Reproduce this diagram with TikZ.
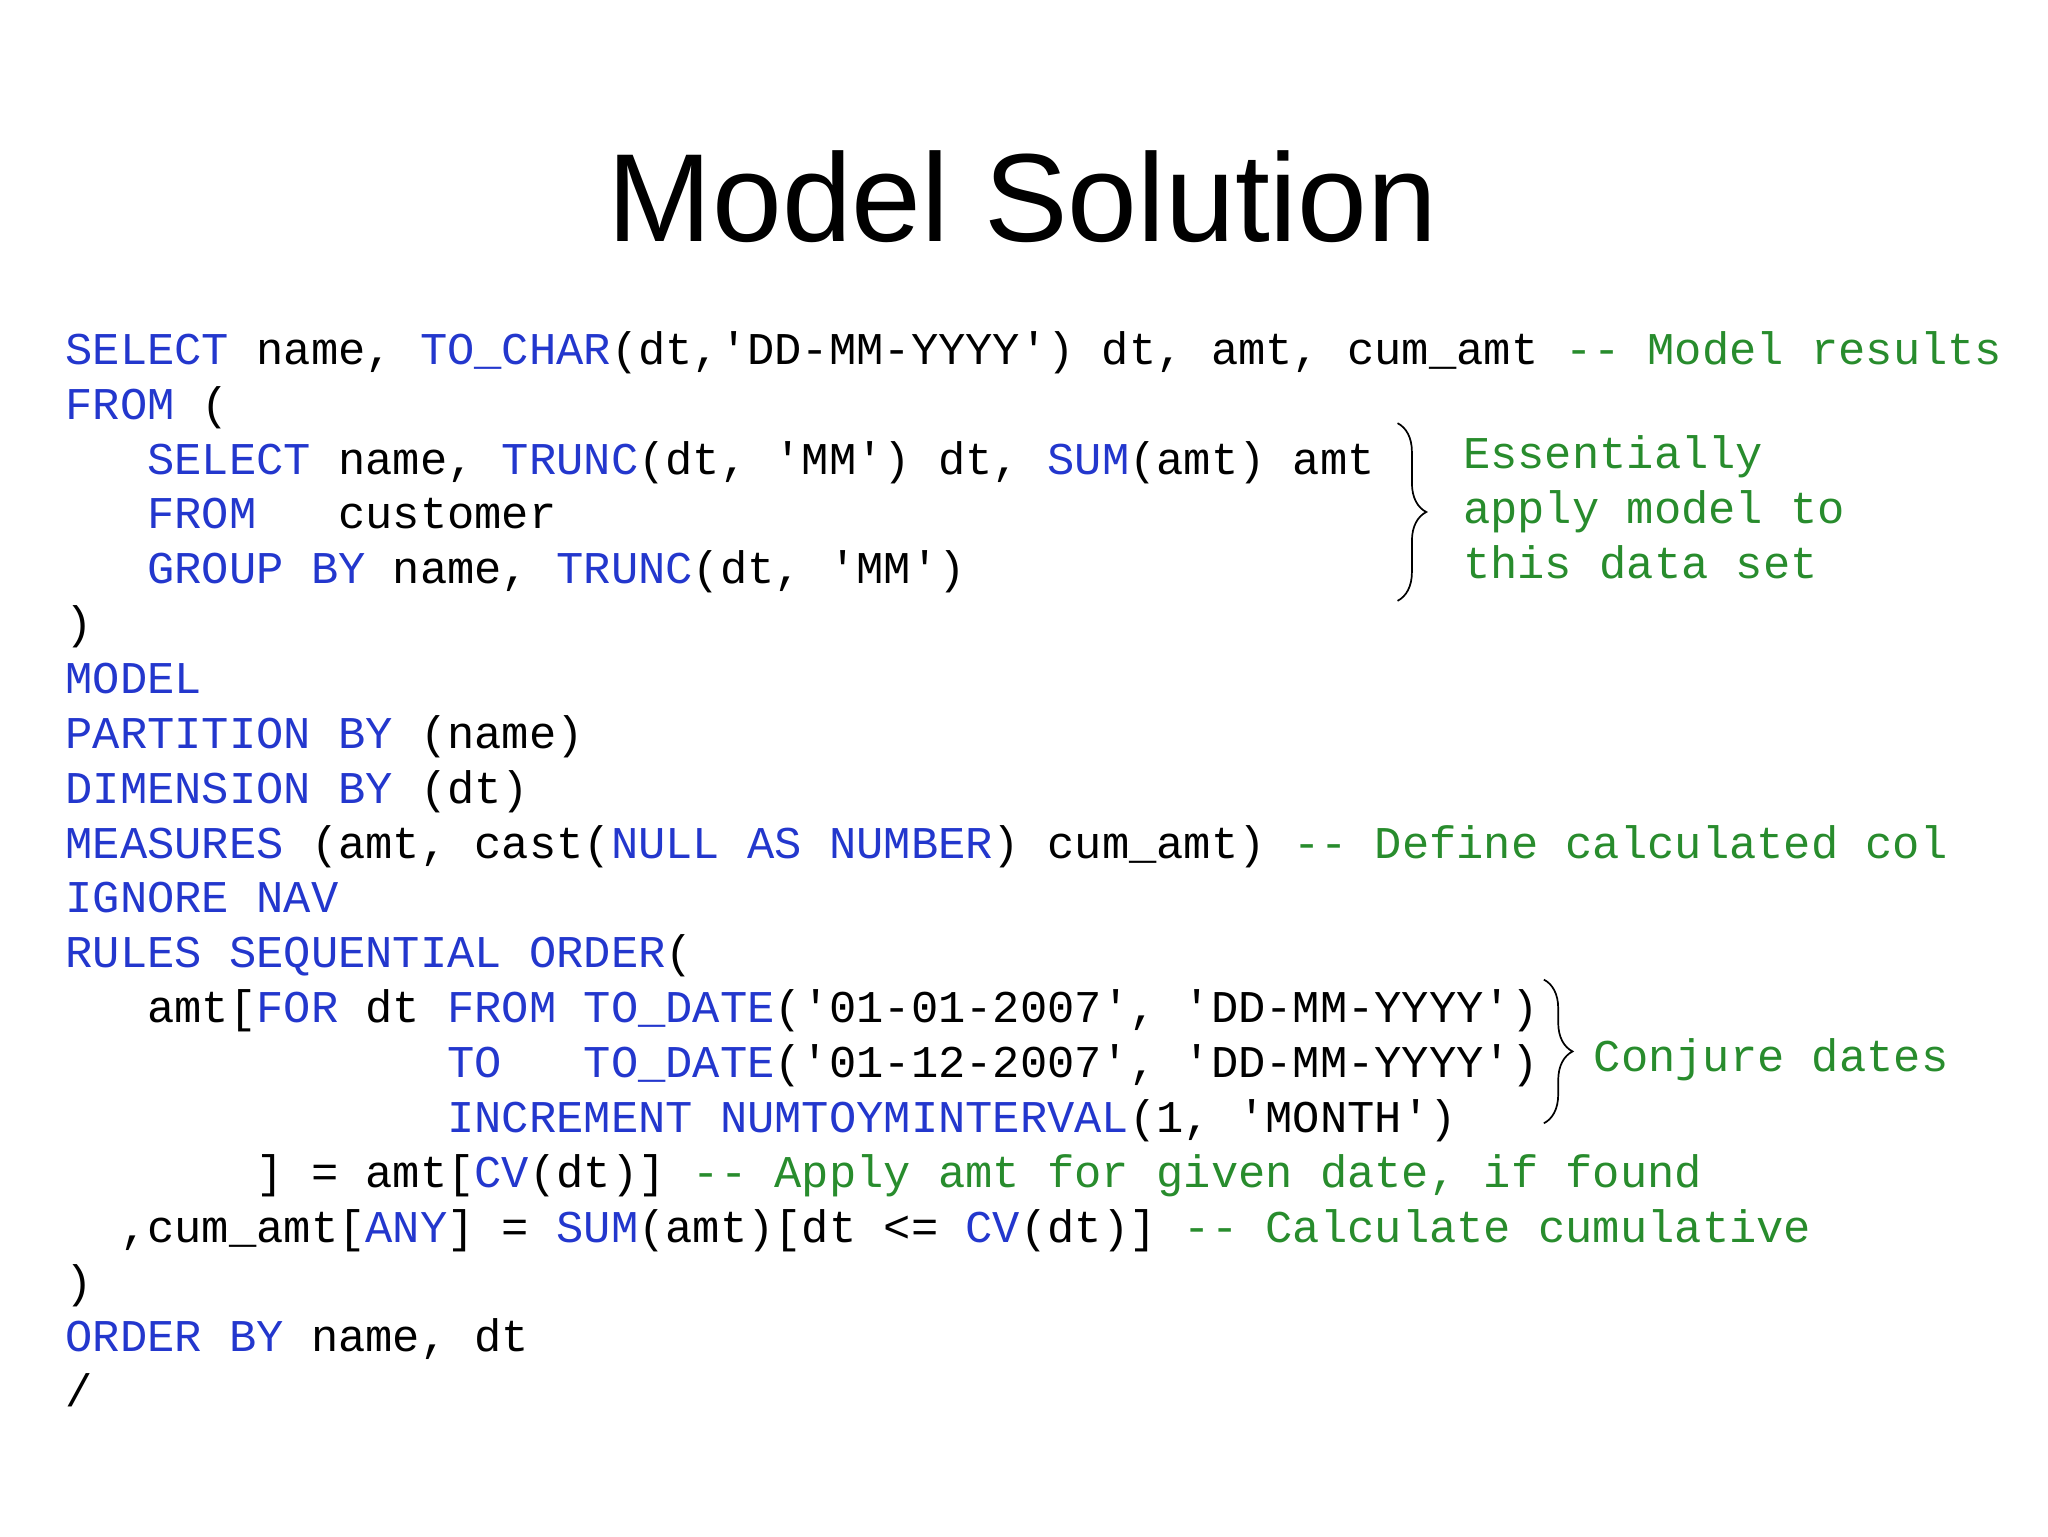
\documentclass[tikz,border=0pt]{standalone}
\usepackage{fontspec}
\setmainfont{Liberation Sans}
\newfontfamily\codefont{Liberation Mono}
\usetikzlibrary{decorations.pathreplacing}
\definecolor{kwblue}{RGB}{35,55,205}
\definecolor{cmgreen}{RGB}{40,140,45}
\newcommand{\kw}[1]{\textcolor{kwblue}{#1}}
\newcommand{\cm}[1]{\textcolor{cmgreen}{#1}}
\tikzset{code/.style={anchor=base west,inner sep=0pt,font=\codefont\fontsize{34.8}{42}\selectfont,text=black},
 brc/.style={decorate,decoration={brace,amplitude=22pt,aspect=0.5},line width=1.3pt}}
\begin{document}
\begin{tikzpicture}[x=1pt,y=-1pt]
\useasboundingbox (0,0) rectangle (1568,1176);
\node[anchor=base,inner sep=0pt,font=\fontsize{96}{100}\selectfont] (title) at (783,185) {Model Solution};
\def\cw{20.88}
\node[code] (l1) at (50,279) {\kw{SELECT} name, \kw{TO\_CHAR}(dt,'DD-MM-YYYY') dt, amt, cum\_amt \cm{-- Model results}};
\node[code] (l2) at (50,321) {\kw{FROM} (};
\node[code] (l3) at (50+3*\cw,363) {\kw{SELECT} name, \kw{TRUNC}(dt, 'MM') dt, \kw{SUM}(amt) amt};
\node[code] (l4) at (50+3*\cw,405) {\kw{FROM}~~~customer};
\node[code] (l5) at (50+3*\cw,447) {\kw{GROUP BY} name, \kw{TRUNC}(dt, 'MM')};
\node[code] (l6) at (50,489) {)};
\node[code] (l7) at (50,531) {\kw{MODEL}};
\node[code] (l8) at (50,573) {\kw{PARTITION BY} (name)};
\node[code] (l9) at (50,615) {\kw{DIMENSION BY} (dt)};
\node[code] (l10) at (50,657) {\kw{MEASURES} (amt, cast(\kw{NULL AS NUMBER}) cum\_amt) \cm{-- Define calculated col}};
\node[code] (l11) at (50,699) {\kw{IGNORE NAV}};
\node[code] (l12) at (50,741) {\kw{RULES SEQUENTIAL ORDER}(};
\node[code] (l13) at (50+3*\cw,783) {amt[\kw{FOR} dt \kw{FROM TO\_DATE}('01-01-2007', 'DD-MM-YYYY')};
\node[code] (l14) at (50+14*\cw,825) {\kw{TO}~~~\kw{TO\_DATE}('01-12-2007', 'DD-MM-YYYY')};
\node[code] (l15) at (50+14*\cw,867) {\kw{INCREMENT NUMTOYMINTERVAL}(1, 'MONTH')};
\node[code] (l16) at (50+7*\cw,909) {] = amt[\kw{CV}(dt)] \cm{-- Apply amt for given date, if found}};
\node[code] (l17) at (50+2*\cw,951) {,cum\_amt[\kw{ANY}] = \kw{SUM}(amt)[dt <= \kw{CV}(dt)] \cm{-- Calculate cumulative}};
\node[code] (l18) at (50,993) {)};
\node[code] (l19) at (50,1035) {\kw{ORDER BY} name, dt};
\node[code] (l20) at (50,1077) {/};
\coordinate (b1t) at (1070,324);
\coordinate (b1b) at (1070,460);
\draw[brc] (b1t) -- (b1b);
\coordinate (b2t) at (1182,750);
\coordinate (b2b) at (1182,860);
\draw[brc] (b2t) -- (b2b);
\node[code] (e1) at (1120,359) {\cm{Essentially}};
\node[code] (e2) at (1120,401) {\cm{apply model to}};
\node[code] (e3) at (1120,443) {\cm{this data set}};
\node[code] (cd) at (1220,820) {\cm{Conjure dates}};
\end{tikzpicture}
\end{document}
